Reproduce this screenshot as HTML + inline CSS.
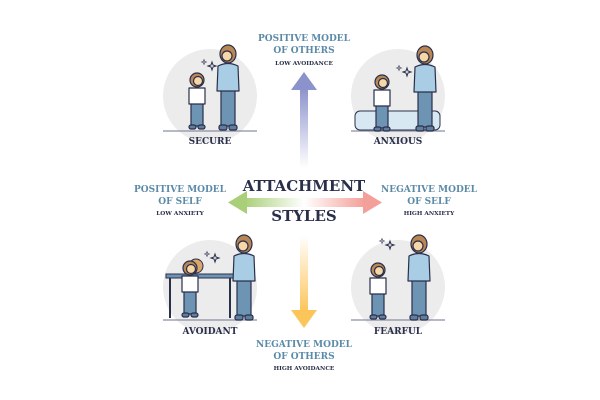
<!DOCTYPE html>
<html><head><style>
html,body{margin:0;padding:0;background:#fff;}
svg{display:block;}
.t{font-family:"DejaVu Serif","Liberation Serif",serif;font-weight:bold;text-anchor:middle;}
</style></head><body>
<svg width="600" height="400" viewBox="0 0 600 400">
<defs>
<linearGradient id="gu" x1="0" y1="1" x2="0" y2="0"><stop offset="0" stop-color="#8c93cc" stop-opacity="0"/><stop offset="1" stop-color="#8c93cc"/></linearGradient>
<linearGradient id="gd" x1="0" y1="0" x2="0" y2="1"><stop offset="0" stop-color="#fcc55a" stop-opacity="0"/><stop offset="1" stop-color="#fcc55a"/></linearGradient>
<linearGradient id="gl" x1="1" y1="0" x2="0" y2="0"><stop offset="0" stop-color="#a9cf78" stop-opacity="0"/><stop offset="1" stop-color="#a9cf78"/></linearGradient>
<linearGradient id="gr" x1="0" y1="0" x2="1" y2="0"><stop offset="0" stop-color="#f4a09a" stop-opacity="0"/><stop offset="1" stop-color="#f4a09a"/></linearGradient>
<g id="adult" stroke="#2a2f4a" stroke-width="1.2" stroke-linejoin="round">
 <rect x="-7" y="22" width="14" height="38" fill="#6e94b4"/>
 <path d="M-10 0 Q0 -5 10 0 L11 25 L-11 25 Z" fill="#a9cde4"/>
 <ellipse cx="0" cy="-12" rx="8" ry="9" fill="#b98655"/>
 <circle cx="-1" cy="-10" r="5" fill="#f6d7a7"/>
 <rect x="-9" y="59" width="8" height="5" rx="2" fill="#5f7f9e"/><rect x="1" y="59" width="8" height="5" rx="2" fill="#5f7f9e"/>
</g>
<g id="kid" stroke="#2a2f4a" stroke-width="1.2" stroke-linejoin="round">
 <rect x="-6" y="14" width="12" height="24" fill="#6e94b4"/>
 <path d="M-8 0 L8 0 L8 16 L-8 16 Z" fill="#fff"/>
 <ellipse cx="0" cy="-8" rx="7" ry="7" fill="#b98655"/>
 <circle cx="1" cy="-7" r="4.5" fill="#f6d7a7"/>
 <rect x="-8" y="37" width="7" height="4" rx="2" fill="#5f7f9e"/><rect x="1" y="37" width="7" height="4" rx="2" fill="#5f7f9e"/>
</g>
<g id="spark" fill="none" stroke="#2a2f4a" stroke-width="1"><path d="M0 -4 L1 -1 L4 0 L1 1 L0 4 L-1 1 L-4 0 L-1 -1Z"/><path transform="translate(-8,-4) scale(.6)" d="M0 -4 L1 -1 L4 0 L1 1 L0 4 L-1 1 L-4 0 L-1 -1Z"/></g>
</defs>
<g fill="#ececec"><circle cx="210" cy="96" r="47"/><circle cx="398" cy="96" r="47"/><circle cx="210" cy="287" r="47"/><circle cx="398" cy="287" r="47"/></g>
<g stroke="#8a8fa3" stroke-width="1.3"><line x1="163" y1="131" x2="257" y2="131"/><line x1="351" y1="131" x2="445" y2="131"/><line x1="163" y1="320" x2="257" y2="320"/><line x1="351" y1="320" x2="445" y2="320"/></g>
<use href="#adult" x="228" y="66"/><use href="#kid" x="197" y="88"/><use href="#spark" x="212" y="66"/>
<rect x="355" y="111" width="85" height="19" rx="5" fill="#d8e8f2" stroke="#2a2f4a" stroke-width="1"/>
<use href="#adult" x="425" y="67"/><use href="#kid" x="382" y="90"/><use href="#spark" x="407" y="72"/>
<rect x="166" y="274" width="68" height="4" fill="#6e94b4" stroke="#2a2f4a"/><line x1="170" y1="278" x2="170" y2="318" stroke="#2a2f4a" stroke-width="2"/><line x1="230" y1="278" x2="230" y2="318" stroke="#2a2f4a" stroke-width="2"/>
<circle cx="196" cy="266" r="7" fill="#d9a86a" stroke="#2a2f4a"/>
<use href="#adult" x="244" y="256"/><use href="#kid" x="190" y="276"/><use href="#spark" x="215" y="258"/>
<use href="#adult" x="419" y="256"/><use href="#kid" x="378" y="278"/><use href="#spark" x="390" y="245"/>
<g fill="#2a2f4a" font-size="9"><text x="210" y="144" class="t">SECURE</text><text x="398" y="144" class="t">ANXIOUS</text><text x="210" y="334" class="t">AVOIDANT</text><text x="398" y="334" class="t">FEARFUL</text></g>
<rect x="300" y="88" width="8" height="80" fill="url(#gu)"/><path d="M291 90 L304 72 L317 90 Z" fill="#8c93cc"/>
<rect x="300" y="235" width="8" height="77" fill="url(#gd)"/><path d="M291 310 L304 328 L317 310 Z" fill="#fcc55a"/>
<rect x="244" y="198" width="60" height="9" fill="url(#gl)"/><path d="M247 191 L228 202.5 L247 214 Z" fill="#a9cf78"/>
<rect x="304" y="198" width="60" height="9" fill="url(#gr)"/><path d="M363 191 L382 202.5 L363 214 Z" fill="#f4a09a"/>
<g fill="#2a2f4a" font-size="15"><text x="304" y="191" class="t">ATTACHMENT</text><text x="304" y="221" class="t">STYLES</text></g>
<g fill="#5b8aa8" font-size="9"><text x="304" y="41" class="t">POSITIVE MODEL</text><text x="304" y="53" class="t">OF OTHERS</text>
<text x="180" y="192" class="t">POSITIVE MODEL</text><text x="180" y="204" class="t">OF SELF</text>
<text x="429" y="192" class="t">NEGATIVE MODEL</text><text x="429" y="204" class="t">OF SELF</text>
<text x="304" y="347" class="t">NEGATIVE MODEL</text><text x="304" y="359" class="t">OF OTHERS</text></g>
<g fill="#2a2f4a" font-size="5.8"><text x="304" y="65" class="t">LOW AVOIDANCE</text><text x="180" y="215" class="t">LOW ANXIETY</text><text x="429" y="215" class="t">HIGH ANXIETY</text><text x="304" y="370" class="t">HIGH AVOIDANCE</text></g>
</svg>
</body></html>
